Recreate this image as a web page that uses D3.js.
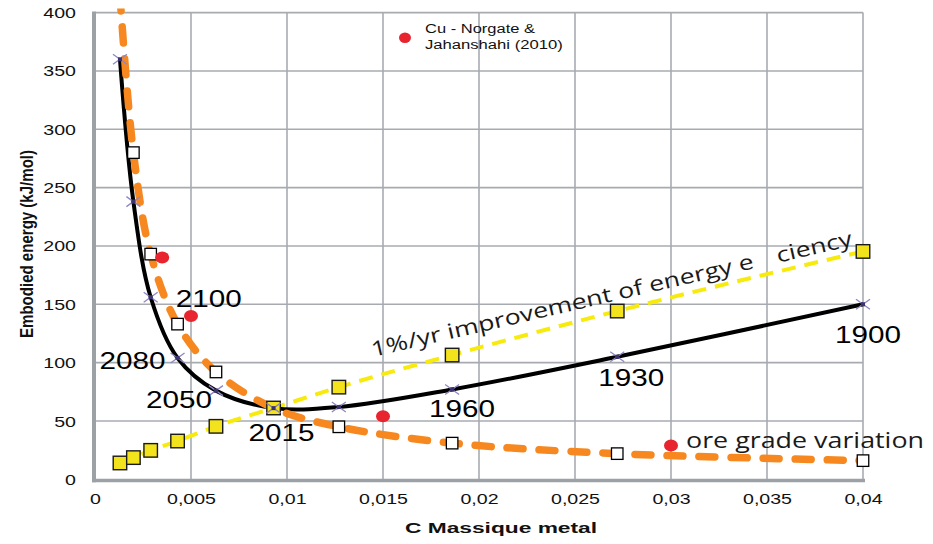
<!DOCTYPE html>
<html>
<head>
<meta charset="utf-8">
<script src="https://cdn.jsdelivr.net/npm/d3@7"></script>
<style>
  html, body { margin: 0; padding: 0; background: #fff; }
  svg { display: block; }
</style>
</head>
<body>
<svg id="chart" width="933" height="544"></svg>
<script>
// ---------- data ----------
const xValues   = [0.0013, 0.002, 0.0029, 0.0043, 0.0063, 0.0093, 0.0127, 0.0186, 0.0272, 0.04];
const blackY    = [360, 238, 156, 104, 76, 61, 62, 77, 105, 150];
const orangeY   = [415, 280, 193, 133, 92, 61, 45, 31, 22, 16];
const yellowY   = [14, 18.6, 24.8, 32.8, 45.4, 61.1, 79, 106.5, 144.2, 195.3];
const redX      = [0.0035, 0.005, 0.015, 0.03];
const redY      = [190, 140, 54, 29];
const xTicks    = [0, 0.005, 0.01, 0.015, 0.02, 0.025, 0.03, 0.035, 0.04];
const xTickLabels = ["0", "0,005", "0,01", "0,015", "0,02", "0,025", "0,03", "0,035", "0,04"];
const yTicks    = [0, 50, 100, 150, 200, 250, 300, 350, 400];
const yearLabels = ["2100", "2080", "2050", "2015", "1960", "1930", "1900"];
const yearIndex  = [2, 3, 4, 5, 7, 8, 9];
const legendLines = ["Cu - Norgate &", "Jahanshahi (2010)"];
const xTitle = "C Massique metal";
const yTitle = "Embodied energy (kJ/mol)";
const efficiencyText = ["1%/yr improvement of energy e", "ciency"];
const oreText = "ore grade variation";

// ---------- layout ----------
const svg = d3.select("#chart");
svg.append("rect").attr("width", 933).attr("height", 544).attr("fill", "#fff");

const x = d3.scaleLinear().domain([0, 0.04]).range([95, 863]);
const y = d3.scaleLinear().domain([0, 400]).range([479.3, 12.6]);
const SX = 1.4; // horizontal stretch of the original picture
const gridColor = "#a7abb0";

// grid
const grid = svg.append("g");
grid.selectAll("line.v").data(xTicks.slice(1)).join("line")
  .attr("x1", d => x(d)).attr("x2", d => x(d))
  .attr("y1", y(400)).attr("y2", y(0))
  .attr("stroke", gridColor).attr("stroke-width", 1.6);
grid.selectAll("line.h").data(yTicks.slice(1)).join("line")
  .attr("x1", x(0)).attr("x2", x(0.04))
  .attr("y1", d => y(d)).attr("y2", d => y(d))
  .attr("stroke", gridColor).attr("stroke-width", 1.6);

// axis lines (thick gray)
svg.append("line").attr("x1", x(0) - 1).attr("x2", x(0) - 1)
  .attr("y1", y(400) - 1).attr("y2", y(0) + 3)
  .attr("stroke", "#9ca1a6").attr("stroke-width", 4);
svg.append("line").attr("x1", x(0) - 3).attr("x2", x(0.04) + 2)
  .attr("y1", y(0) + 1.2).attr("y2", y(0) + 1.2)
  .attr("stroke", "#9ca1a6").attr("stroke-width", 3.6);

// axes (labels only)
const yAxis = svg.append("g").attr("transform", `translate(${x(0)},0)`)
  .call(d3.axisLeft(y).tickValues(yTicks).tickSize(0).tickFormat(d3.format("d")));
yAxis.select(".domain").remove();
yAxis.selectAll("text")
  .attr("x", -19 / SX).attr("dy", "0.36em")
  .attr("transform", `scale(${SX},1)`)
  .attr("font-family", "Liberation Sans, Arial, sans-serif")
  .attr("font-size", 14).attr("fill", "#111");

const xAxis = svg.append("g").attr("transform", `translate(0,${y(0)})`)
  .call(d3.axisBottom(x).tickValues(xTicks).tickSize(0)
    .tickFormat((d, i) => xTickLabels[i]));
xAxis.select(".domain").remove();
xAxis.selectAll("text")
  .attr("y", 25).attr("dy", 0)
  .attr("transform", `scale(${SX},1)`)
  .attr("font-family", "Liberation Sans, Arial, sans-serif")
  .attr("font-size", 14).attr("fill", "#111");

// axis titles
svg.append("text")
  .attr("transform", `translate(501,533) scale(${SX},1)`)
  .attr("text-anchor", "middle")
  .attr("font-family", "Liberation Sans, Arial, sans-serif")
  .attr("font-weight", "bold").attr("font-size", 14).attr("fill", "#111")
  .attr("textLength", 192 / SX).attr("lengthAdjust", "spacingAndGlyphs")
  .text(xTitle);
svg.append("text")
  .attr("transform", `translate(33,244) scale(${SX},1) rotate(-90)`)
  .attr("text-anchor", "middle")
  .attr("font-family", "Liberation Sans, Arial, sans-serif")
  .attr("font-weight", "bold").attr("font-size", 13).attr("fill", "#111")
  .attr("textLength", 188).attr("lengthAdjust", "spacingAndGlyphs")
  .text(yTitle);

// clip
svg.append("clipPath").attr("id", "plotclip").append("rect")
  .attr("x", x(0)).attr("y", y(400) - 4).attr("width", x(0.04) - x(0) + 10).attr("height", y(0) - y(400) + 4);

const plot = svg.append("g").attr("clip-path", "url(#plotclip)");

const blackData  = xValues.map((d, i) => [d, blackY[i]]);
const orangeData = xValues.map((d, i) => [d, orangeY[i]]);
const yellowData = xValues.map((d, i) => [d, yellowY[i]]);

const lineCR = d3.line().x(d => x(d[0])).y(d => y(d[1])).curve(d3.curveCatmullRom.alpha(0.5));
const lineMono = d3.line().x(d => x(d[0])).y(d => y(d[1])).curve(d3.curveMonotoneX);

plot.append("path").attr("d", lineMono(yellowData))
  .attr("fill", "none").attr("stroke", "#f7ea0d").attr("stroke-width", 4)
  .attr("stroke-dasharray", "14,9");
plot.append("path").attr("d", lineCR(blackData))
  .attr("fill", "none").attr("stroke", "#000").attr("stroke-width", 4);
plot.append("path").attr("d", lineCR(orangeData))
  .attr("fill", "none").attr("stroke", "#f6881f").attr("stroke-width", 7.5)
  .attr("stroke-linecap", "round").attr("stroke-dasharray", "16,16");

// hollow squares (orange series)
const hs = 11.5;
svg.append("g").selectAll("rect").data(orangeData.filter(d => d[1] <= 400)).join("rect")
  .attr("x", d => x(d[0]) - hs / 2).attr("y", d => y(d[1]) - hs / 2)
  .attr("width", hs).attr("height", hs)
  .attr("fill", "#fff").attr("stroke", "#000").attr("stroke-width", 1.3);

// yellow squares
const ys = 13.5;
svg.append("g").selectAll("rect").data(yellowData).join("rect")
  .attr("x", d => x(d[0]) - ys / 2).attr("y", d => y(d[1]) - ys / 2)
  .attr("width", ys).attr("height", ys)
  .attr("fill", "#f3e31c").attr("stroke", "#1a1a1a").attr("stroke-width", 1.4);

// x markers on black series
const xm = svg.append("g").selectAll("g").data(blackData).join("g")
  .attr("transform", d => `translate(${x(d[0])},${y(d[1])})`);
xm.append("path").attr("d", "M-7,-5L7,5M-7,5L7,-5")
  .attr("stroke", "#8f86c4").attr("stroke-width", 1.3).attr("fill", "none");
xm.append("rect").attr("x", -2).attr("y", -2).attr("width", 4).attr("height", 4)
  .attr("fill", "#3d3370");

// red dots
svg.append("g").selectAll("ellipse").data(redX.map((d, i) => [d, redY[i]])).join("ellipse")
  .attr("cx", d => x(d[0])).attr("cy", d => y(d[1]))
  .attr("rx", 7).attr("ry", 6).attr("fill", "#e8242f");

// year labels
const yearOffsets = [[58, 9.5], [-45, 11], [-37, 17], [8, 32.5], [10, 27.5], [14, 29], [5, 38.5]];
svg.append("g").selectAll("text").data(yearLabels).join("text")
  .attr("x", (d, i) => x(xValues[yearIndex[i]]) + yearOffsets[i][0])
  .attr("y", (d, i) => y(blackY[yearIndex[i]]) + yearOffsets[i][1])
  .attr("text-anchor", "middle")
  .attr("font-family", "Liberation Sans, Arial, sans-serif")
  .attr("font-size", 24).attr("fill", "#000")
  .attr("textLength", 66).attr("lengthAdjust", "spacingAndGlyphs")
  .text(d => d);

// efficiency annotation (rotated)
const eff = svg.append("text")
  .attr("transform", "translate(373,357) rotate(-13.1)")
  .attr("font-family", "Open Sans, Noto Sans, sans-serif")
  .attr("font-size", 21).attr("fill", "#1a1a1a");
eff.append("tspan").attr("x", 0).attr("textLength", 392).attr("lengthAdjust", "spacingAndGlyphs").text(efficiencyText[0]);
eff.append("tspan").attr("x", 416).attr("textLength", 77).attr("lengthAdjust", "spacingAndGlyphs").text(efficiencyText[1]);

// ore grade annotation
svg.append("text").attr("x", 686).attr("y", 448)
  .attr("font-family", "Open Sans, Noto Sans, sans-serif")
  .attr("font-size", 21).attr("fill", "#1a1a1a")
  .attr("textLength", 238).attr("lengthAdjust", "spacingAndGlyphs")
  .text(oreText);

// legend
svg.append("ellipse").attr("cx", 405).attr("cy", 37.7).attr("rx", 6).attr("ry", 5.2).attr("fill", "#e8242f");
const leg = svg.append("text").attr("font-family", "Liberation Sans, Arial, sans-serif")
  .attr("font-size", 12.5).attr("fill", "#111");
leg.append("tspan").attr("x", 425).attr("y", 33).attr("textLength", 110).attr("lengthAdjust", "spacingAndGlyphs").text(legendLines[0]);
leg.append("tspan").attr("x", 425).attr("y", 49).attr("textLength", 137.7).attr("lengthAdjust", "spacingAndGlyphs").text(legendLines[1]);
</script>
</body>
</html>
